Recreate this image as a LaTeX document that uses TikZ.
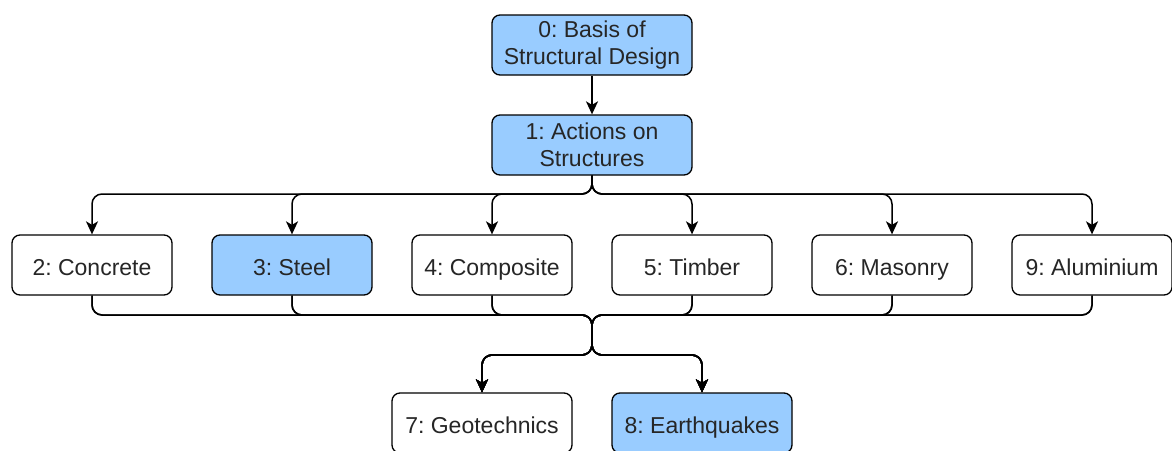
\documentclass[tikz,border=0pt]{standalone}
\usepackage{fontspec}
\setmainfont{Liberation Sans}
\frenchspacing
\usetikzlibrary{arrows.meta}
\definecolor{boxblue}{HTML}{99CCFF}
\tikzset{
  box/.style={draw=black, line width=1.3pt, rounded corners=8pt, fill=white,
    minimum width=160pt, minimum height=60pt, inner sep=0pt, align=center,
    font=\fontsize{23}{27}\selectfont\frenchspacing, text=black!85},
  oneline/.style={text height=20pt, text depth=0pt},
  bluebox/.style={box, fill=boxblue},
  edge/.style={draw=black, line width=1.5pt, rounded corners=10pt,
    -{Stealth[length=13pt,width=12pt,inset=3.5pt]}}
}
\begin{document}
\begin{tikzpicture}[x=1pt,y=-1pt]
\useasboundingbox (0,0) rectangle (1172,450);
\clip (0,0) rectangle (1172,450);
\node[bluebox, minimum width=200pt] (n0) at (592,45) {0: Basis of\\Structural Design};
\node[bluebox, minimum width=200pt] (n1) at (592,145) {1: Actions on\\Structures};
\node[box, oneline] (n2) at (92,265) {2: Concrete};
\node[bluebox, oneline] (n3) at (292,265) {3: Steel};
\node[box, oneline] (n4) at (492,265) {4: Composite};
\node[box, oneline] (n5) at (692,265) {5: Timber};
\node[box, oneline] (n6) at (892,265) {6: Masonry};
\node[box, oneline] (n9) at (1092,265) {9: Aluminium};
\node[box, oneline, minimum width=180pt] (n7) at (482,423) {7: Geotechnics};
\node[bluebox, oneline, minimum width=180pt] (n8) at (702,423) {8: Earthquakes};
\coordinate (b1) at (592,194);
\coordinate (m1) at (592,315);
\coordinate (m2) at (592,355);
\draw[edge, rounded corners=0pt] (n0) -- (n1);
\foreach \t in {n2,n3,n4,n5,n6,n9} {
  \draw[edge] (n1.south) -- (b1) -| (\t.north);
}
\foreach \s in {n2,n3,n4,n5,n6,n9} {
  \foreach \t in {n7,n8} {
    \draw[edge] (\s.south) |- (m1) -- (m2) -| (\t.north);
  }
}
\end{tikzpicture}
\end{document}
